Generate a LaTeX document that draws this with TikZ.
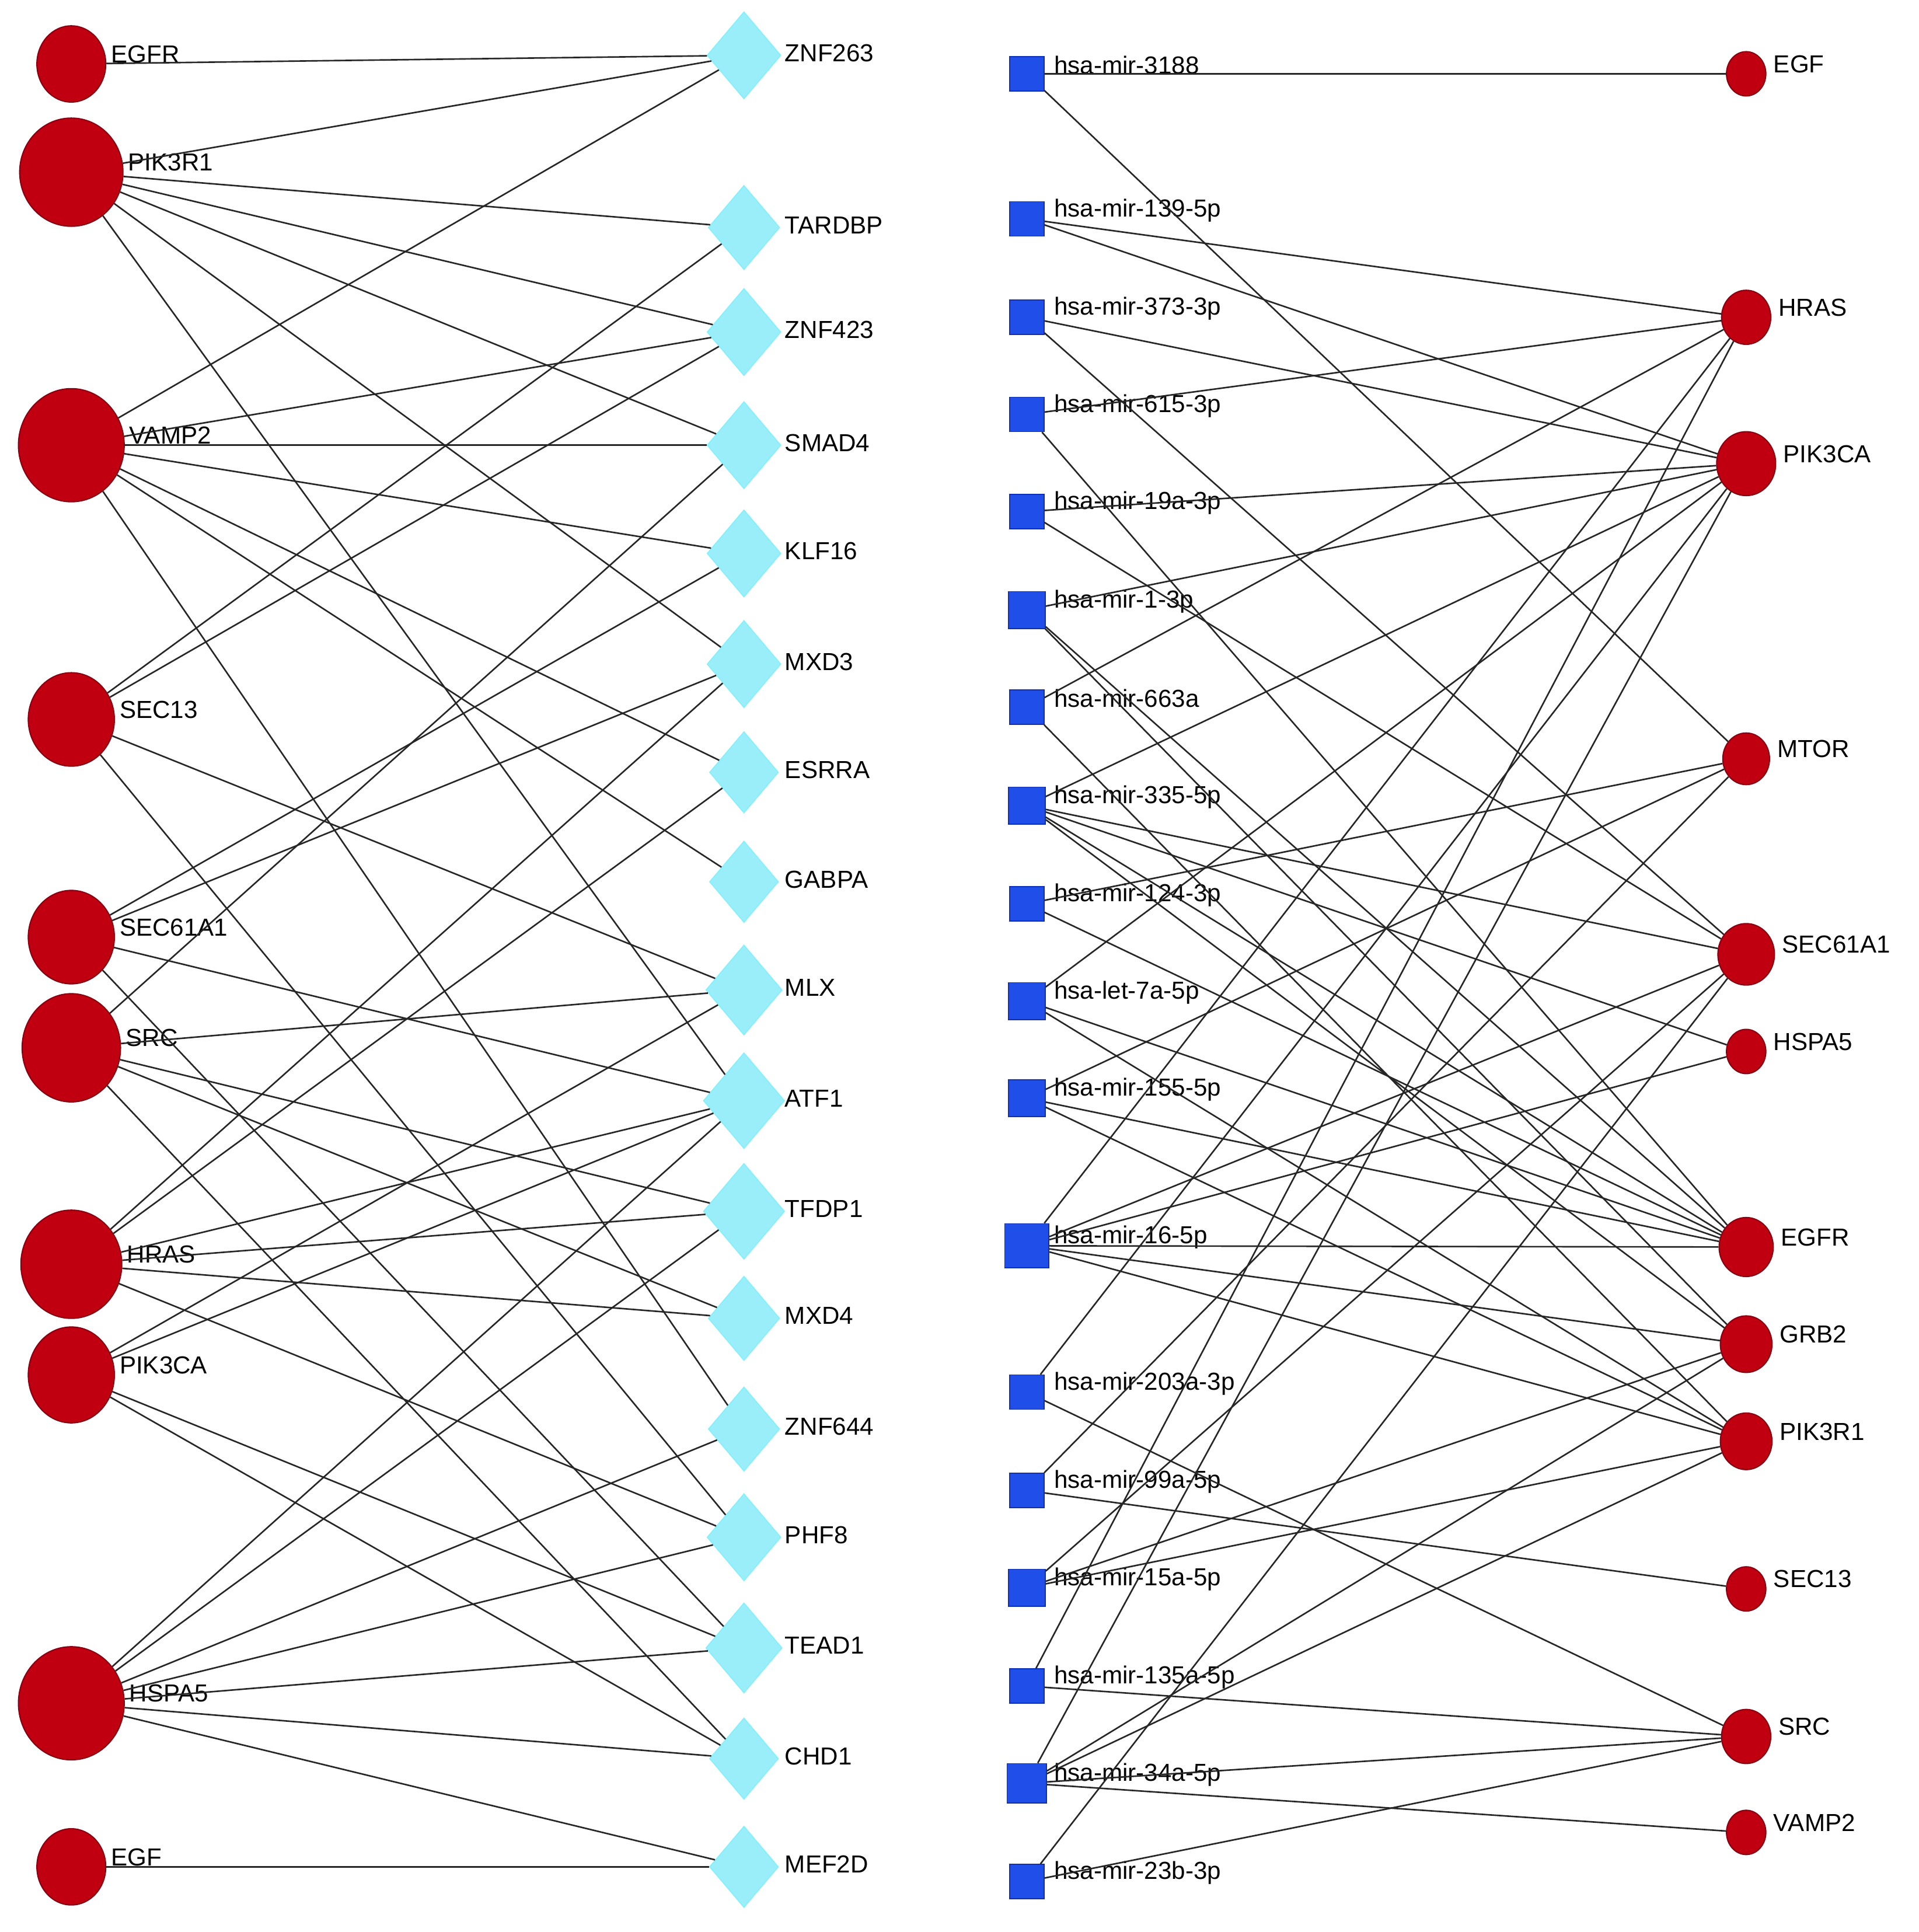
\documentclass[tikz,border=0pt]{standalone}
\usepackage{fontspec}
\setmainfont{Liberation Sans}
\usetikzlibrary{shapes.geometric}
\definecolor{nred}{HTML}{C00010}
\definecolor{nredb}{HTML}{8A0010}
\definecolor{ncyan}{HTML}{99EEFA}
\definecolor{nblue}{HTML}{1F4FE8}
\definecolor{nblueb}{HTML}{1030B0}
\begin{document}
\begin{tikzpicture}[x=0.02107cm,y=-0.02107cm,
  gene/.style={ellipse,fill=nred,draw=nredb,line width=0.6pt,inner sep=0pt},
  tf/.style={diamond,fill=ncyan,draw=ncyan!85!cyan,line width=0.5pt,inner sep=0pt},
  mir/.style={rectangle,fill=nblue,draw=nblueb,line width=0.5pt,inner sep=0pt},
  lab/.style={anchor=west,font=\fontsize{12}{13}\selectfont,inner sep=0pt},
  edge/.style={draw=black!85,line width=0.75pt}]
\useasboundingbox (0,0) rectangle (1560.5,1571);
\fill[white] (0,0) rectangle (1560.5,1571);
\foreach \n/\t/\y/\w/\h in {lEGFR/EGFR/52/56/62, lPIK3R1/PIK3R1/140/84/88, lVAMP2/VAMP2/362/86/92, lSEC13/SEC13/585/70/76, lSEC61A1/SEC61A1/762/70/76, lSRC/SRC/852/80/88, lHRAS/HRAS/1028/82/88, lPIK3CA/PIK3CA/1118/70/78, lHSPA5/HSPA5/1385/86/92, lEGF/EGF/1518/56/62}
  {\node[gene,minimum width=\w*0.02107cm,minimum height=\h*0.02107cm] (\n) at (58,\y) {};
   \node[lab] (\n-t) at ({58+\w/2+4},{\y-8}) {\t};}
\foreach \n/\y/\s in {ZNF263/45/60, TARDBP/185/58, ZNF423/270/60, SMAD4/362/60, KLF16/450/60, MXD3/540/60, ESRRA/628/56, GABPA/717/56, MLX/805/62, ATF1/895/66, TFDP1/985/66, MXD4/1072/58, ZNF644/1162/58, PHF8/1250/60, TEAD1/1340/62, CHD1/1430/56, MEF2D/1518/56}
  {\node[tf,minimum width=\s*0.02107cm,minimum height=\s*1.18*0.02107cm] (d\n) at (605,\y) {};
   \node[lab] (d\n-t) at (638,{\y-2}) {\n};}
\foreach \n/\t/\y/\s in {m3188/hsa-mir-3188/60/28, m139/hsa-mir-139-5p/178/28, m373/hsa-mir-373-3p/258/28, m615/hsa-mir-615-3p/337/28, m19a/hsa-mir-19a-3p/416/28, m1/hsa-mir-1-3p/496/30, m663a/hsa-mir-663a/575/28, m335/hsa-mir-335-5p/655/30, m124/hsa-mir-124-3p/735/28, mlet7a/hsa-let-7a-5p/814/30, m155/hsa-mir-155-5p/893/30, m16/hsa-mir-16-5p/1013/36, m203a/hsa-mir-203a-3p/1132/28, m99a/hsa-mir-99a-5p/1212/28, m15a/hsa-mir-15a-5p/1291/30, m135a/hsa-mir-135a-5p/1371/28, m34a/hsa-mir-34a-5p/1450/32, m23b/hsa-mir-23b-3p/1530/28}
  {\node[mir,minimum size=\s*0.02107cm] (\n) at (835,\y) {};
   \node[lab] (\n-t) at (857,{\y-7}) {\t};}
\foreach \n/\t/\y/\s in {rEGF/EGF/60/32, rHRAS/HRAS/258/40, rPIK3CA/PIK3CA/377/48, rMTOR/MTOR/617/38, rSEC61A1/SEC61A1/776/46, rHSPA5/HSPA5/855/32, rEGFR/EGFR/1014/44, rGRB2/GRB2/1093/42, rPIK3R1/PIK3R1/1172/42, rSEC13/SEC13/1292/32, rSRC/SRC/1412/40, rVAMP2/VAMP2/1490/32}
  {\node[gene,minimum width=\s*0.02107cm,minimum height={(\s+4)*0.02107cm}] (\n) at (1420,\y) {};
   \node[lab] (\n-t) at ({1420+\s/2+6},{\y-8}) {\t};}
\foreach \a/\b in {lEGFR/ZNF263, lPIK3R1/ZNF263, lPIK3R1/TARDBP, lPIK3R1/ZNF423, lPIK3R1/SMAD4, lPIK3R1/MXD3, lPIK3R1/ATF1,
  lVAMP2/ZNF263, lVAMP2/ZNF423, lVAMP2/SMAD4, lVAMP2/KLF16, lVAMP2/ESRRA, lVAMP2/GABPA, lVAMP2/ZNF644,
  lSEC13/TARDBP, lSEC13/ZNF423, lSEC13/MLX, lSEC13/PHF8,
  lSEC61A1/KLF16, lSEC61A1/MXD3, lSEC61A1/ATF1, lSEC61A1/TEAD1,
  lSRC/SMAD4, lSRC/MLX, lSRC/TFDP1, lSRC/MXD4, lSRC/CHD1,
  lHRAS/MXD3, lHRAS/ESRRA, lHRAS/ATF1, lHRAS/TFDP1, lHRAS/MXD4, lHRAS/PHF8,
  lPIK3CA/MLX, lPIK3CA/ATF1, lPIK3CA/TEAD1, lPIK3CA/CHD1,
  lHSPA5/ATF1, lHSPA5/TFDP1, lHSPA5/ZNF644, lHSPA5/PHF8, lHSPA5/TEAD1, lHSPA5/CHD1, lHSPA5/MEF2D, lEGF/MEF2D}
  {\draw[edge] (\a) -- (d\b);}
\foreach \a/\b in {m3188/EGF, m3188/MTOR, m139/HRAS, m139/PIK3CA, m373/PIK3CA, m373/SEC61A1, m615/HRAS, m615/EGFR,
  m19a/PIK3CA, m19a/SEC61A1, m1/PIK3CA, m1/EGFR, m1/GRB2, m663a/HRAS, m663a/PIK3R1,
  m335/PIK3CA, m335/SEC61A1, m335/HSPA5, m335/EGFR, m335/GRB2, m124/MTOR, m124/EGFR,
  mlet7a/PIK3CA, mlet7a/EGFR, mlet7a/PIK3R1, m155/MTOR, m155/EGFR, m155/PIK3R1,
  m16/HRAS, m16/SEC61A1, m16/HSPA5, m16/EGFR, m16/GRB2, m16/PIK3R1,
  m203a/PIK3CA, m203a/SRC, m99a/MTOR, m99a/SEC13, m15a/SEC61A1, m15a/GRB2, m15a/PIK3R1,
  m135a/SRC, m135a/HRAS, m34a/SRC, m34a/VAMP2, m34a/PIK3CA, m34a/GRB2, m34a/PIK3R1, m23b/SRC, m23b/SEC61A1}
  {\draw[edge] (\a) -- (r\b);}
\end{tikzpicture}
\end{document}
